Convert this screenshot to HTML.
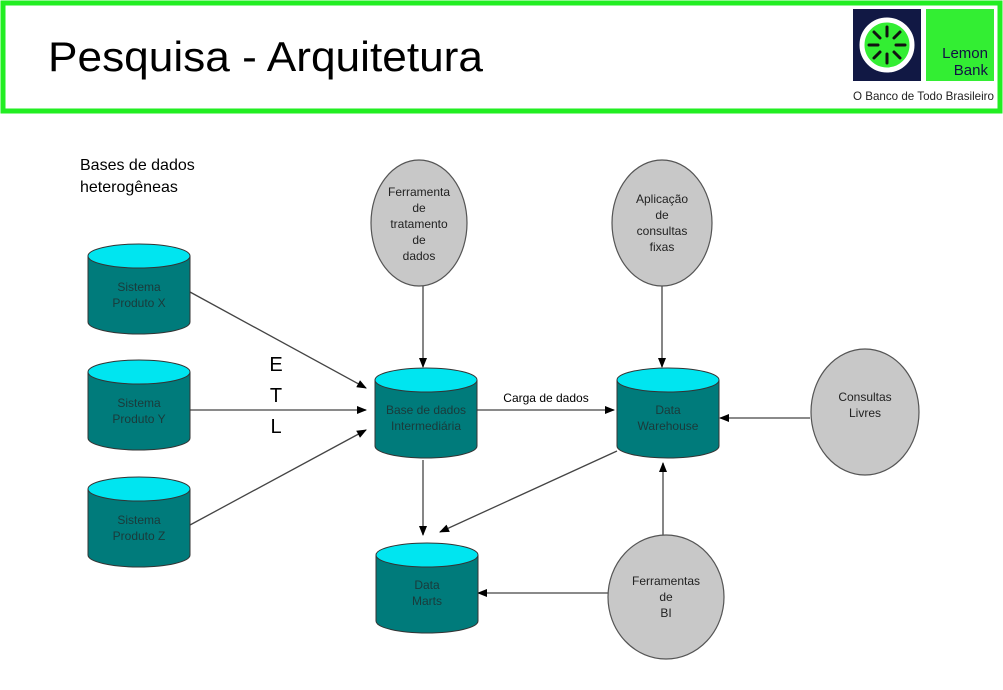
<!DOCTYPE html>
<html><head><meta charset="utf-8"><style>
body{margin:0;width:1003px;height:685px;background:#fff;overflow:hidden;font-family:"Liberation Sans",sans-serif}
</style></head><body>
<svg width="1003" height="685" xmlns="http://www.w3.org/2000/svg" font-family="Liberation Sans, sans-serif">
<defs>
<marker id="a" markerWidth="10" markerHeight="8" refX="9" refY="4" orient="auto" markerUnits="userSpaceOnUse"><path d="M0,0L10,4L0,8z" fill="#000"/></marker>
<g id="cyl">
<path d="M0,12 L0,78 A51,12 0 0 0 102,78 L102,12" fill="#007b7b" stroke="#333" stroke-width="1"/>
<ellipse cx="51" cy="12" rx="51" ry="12" fill="#00e5f0" stroke="#333" stroke-width="1"/>
</g>
</defs>
<rect x="3" y="3" width="997" height="108" fill="#fff" stroke="#22ee22" stroke-width="5"/>
<text x="48" y="71" font-size="42" fill="#000" textLength="435" lengthAdjust="spacingAndGlyphs">Pesquisa - Arquitetura</text>
<rect x="853" y="9" width="68" height="72" fill="#111844"/>
<circle cx="887" cy="45" r="25" fill="#33ee33" stroke="#fff" stroke-width="5"/>
<g stroke="#111" stroke-width="3" stroke-linecap="round">
<line x1="887" y1="27" x2="887" y2="36"/><line x1="887" y1="54" x2="887" y2="63"/>
<line x1="869" y1="45" x2="878" y2="45"/><line x1="896" y1="45" x2="905" y2="45"/>
<line x1="874" y1="32" x2="880" y2="38"/><line x1="894" y1="52" x2="900" y2="58"/>
<line x1="900" y1="32" x2="894" y2="38"/><line x1="880" y1="52" x2="874" y2="58"/>
</g>
<rect x="926" y="9" width="68" height="72" fill="#33ee33"/>
<text x="988" y="58" font-size="15" fill="#114" text-anchor="end">Lemon</text>
<text x="988" y="75" font-size="15" fill="#114" text-anchor="end">Bank</text>
<text x="853" y="100" font-size="12" fill="#222" textLength="141" lengthAdjust="spacingAndGlyphs">O Banco de Todo Brasileiro</text>

<text x="80" y="170" font-size="16" fill="#000">Bases de dados</text>
<text x="80" y="192" font-size="16" fill="#000">heterogêneas</text>

<g stroke="#444" stroke-width="1.3" fill="none">
<line x1="190" y1="292" x2="366" y2="388" marker-end="url(#a)"/>
<line x1="190" y1="410" x2="366" y2="410" marker-end="url(#a)"/>
<line x1="190" y1="525" x2="366" y2="430" marker-end="url(#a)"/>
<line x1="423" y1="286" x2="423" y2="367" marker-end="url(#a)"/>
<line x1="476" y1="410" x2="614" y2="410" marker-end="url(#a)"/>
<line x1="662" y1="286" x2="662" y2="367" marker-end="url(#a)"/>
<line x1="810" y1="418" x2="720" y2="418" marker-end="url(#a)"/>
<line x1="617" y1="451" x2="440" y2="532" marker-end="url(#a)"/>
<line x1="423" y1="460" x2="423" y2="535" marker-end="url(#a)"/>
<line x1="663" y1="535" x2="663" y2="463" marker-end="url(#a)"/>
<line x1="608" y1="593" x2="478" y2="593" marker-end="url(#a)"/>
</g>

<g font-size="20" fill="#000" text-anchor="middle">
<text x="276" y="371">E</text><text x="276" y="402">T</text><text x="276" y="433">L</text>
</g>
<text x="546" y="402" font-size="12" fill="#000" text-anchor="middle">Carga de dados</text>

<use href="#cyl" x="88" y="244"/>
<use href="#cyl" x="88" y="360"/>
<use href="#cyl" x="88" y="477"/>
<use href="#cyl" x="375" y="368"/>
<use href="#cyl" x="617" y="368"/>
<use href="#cyl" x="376" y="543"/>

<g font-size="12" fill="#1a3a3a" text-anchor="middle">
<text x="139" y="291">Sistema</text><text x="139" y="307">Produto X</text>
<text x="139" y="407">Sistema</text><text x="139" y="423">Produto Y</text>
<text x="139" y="524">Sistema</text><text x="139" y="540">Produto Z</text>
<text x="426" y="414">Base de dados</text><text x="426" y="430">Intermediária</text>
<text x="668" y="414">Data</text><text x="668" y="430">Warehouse</text>
<text x="427" y="589">Data</text><text x="427" y="605">Marts</text>
</g>

<g fill="#c8c8c8" stroke="#555" stroke-width="1.2">
<ellipse cx="419" cy="223" rx="48" ry="63"/>
<ellipse cx="662" cy="223" rx="50" ry="63"/>
<ellipse cx="865" cy="412" rx="54" ry="63"/>
<ellipse cx="666" cy="597" rx="58" ry="62"/>
</g>
<g font-size="12" fill="#222" text-anchor="middle">
<text x="419" y="196">Ferramenta</text><text x="419" y="212">de</text><text x="419" y="228">tratamento</text><text x="419" y="244">de</text><text x="419" y="260">dados</text>
<text x="662" y="203">Aplicação</text><text x="662" y="219">de</text><text x="662" y="235">consultas</text><text x="662" y="251">fixas</text>
<text x="865" y="401">Consultas</text><text x="865" y="417">Livres</text>
<text x="666" y="585">Ferramentas</text><text x="666" y="601">de</text><text x="666" y="617">BI</text>
</g>
</svg>
</body></html>
